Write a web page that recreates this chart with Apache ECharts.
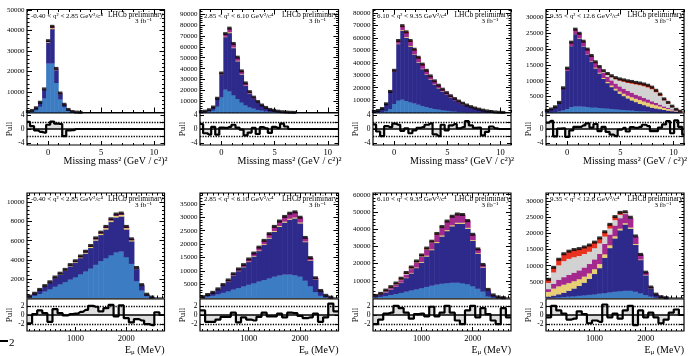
<!DOCTYPE html>
<html><head><meta charset="utf-8">
<script src="https://cdn.jsdelivr.net/npm/echarts@6/dist/echarts.min.js"></script>
<style>html,body{margin:0;padding:0;background:#fff}#c{width:689px;height:356px}</style>
</head><body><div id="c"></div>
<script>
// ---------- binning ----------
const mmBins = { start: -2.09, width: 0.38 };   // missing mass^2 bins (GeV^2/c^4)
const mmRange = [-2, 11];
const mmTicks = [0, 5, 10];
const eBins = { start: 50, width: 100 };         // E_mu bins (MeV)
const eRange = [50, 2750];
const eTicks = [1000, 2000];
const qLabels = ['-0.40 < q² < 2.85 GeV²/c⁴', '2.85 < q² < 6.10 GeV²/c⁴', '6.10 < q² < 9.35 GeV²/c⁴', '9.35 < q² < 12.6 GeV²/c⁴'];

// ---------- top row: missing mass^2 ----------
const m1Data    = [500, 1000, 2300, 5000, 11500, 35000, 42000, 21500, 9500, 4000, 1500, 500, 200, 80];
const m1Blue    = [300, 600, 1300, 3000, 7000, 24000, 24000, 14500, 6500, 2700, 1000, 330, 130, 50];
const m1Navy    = [200, 400, 1000, 2000, 4150, 10100, 16700, 6200, 2600, 1140, 460, 170, 70, 30];
const m1Yellow  = [0, 0, 0, 0, 150, 400, 500, 300, 150, 60];
const m1Magenta = [0, 0, 0, 0, 200, 500, 800, 500, 250, 100, 40];
const m1Grey    = [];
const m1Red     = [];
const m1Pull    = [2.0, 0.8, -0.4, -0.8, -1.0, 1.2, 2.1, 1.5, 1.4, -2.0, -0.4, -0.3, 0, 0, 0, 0, 0, 0, 0, 0, 0, 0, 0, 0, 0, 0, 0, 0, 0, 0, 0, 0, 0, 0, 0];

const m2Data    = [600, 1200, 2500, 5000, 13000, 36000, 72000, 77000, 63000, 50500, 38000, 27000, 19000, 14000, 10000, 6800, 4600, 2800, 2000, 1200, 700, 400, 200, 100];
const m2Blue    = [250, 600, 1200, 2200, 5500, 14000, 21000, 19500, 16000, 12500, 9500, 7000, 5000, 3600, 2600, 1800, 1200, 750, 500, 300, 170, 100, 50, 25];
const m2Navy    = [350, 600, 1300, 2800, 7200, 20700, 47900, 53200, 42800, 34400, 25500, 17600, 12200, 9100, 6450, 4350, 3000, 1800, 1350, 800, 530, 300, 150, 75];
const m2Yellow  = [0, 0, 0, 0, 0, 300, 600, 800, 700, 600, 500, 400, 300, 200, 150, 100];
const m2Magenta = [0, 0, 0, 0, 300, 1000, 2500, 3500, 3500, 3000, 2500, 2000, 1500, 1100, 800, 550, 400, 250, 150, 100];
const m2Grey    = [];
const m2Red     = [];
const m2Pull    = [1.4, -1.2, -1.6, 0.6, -1.6, 0.4, 0.3, 0.6, 1.2, 0.4, -0.2, -1.8, -1.0, 0.3, -1.4, 0.5, 0.2, -1.1, 0.6, 0.3, 1.5, 0.7, 0, 0, 0, 0, 0, 0, 0, 0, 0, 0, 0, 0, 0];

const m3Data    = [800, 1600, 3200, 7000, 17000, 34000, 58000, 70000, 65000, 58000, 51000, 44500, 39000, 34000, 29500, 25500, 22000, 18800, 16000, 13500, 11200, 9200, 7500, 6000, 4700, 3600, 2700, 1900, 1300, 800, 450, 200, 80];
const m3Blue    = [100, 250, 500, 1200, 3000, 7000, 10000, 10500, 9500, 8500, 7500, 6500, 5500, 4600, 3800, 3100, 2500, 2000, 1600, 1200, 900, 650, 450, 300, 200, 120, 70, 40];
const m3Navy    = [700, 1350, 2700, 5800, 13700, 25900, 45300, 55400, 50900, 44800, 39000, 33800, 29600, 25900, 22600, 19700, 17180, 14860, 12720, 10880, 9140, 7580, 6270, 5080, 4010, 3100, 2380, 1700, 1200, 740, 420, 200, 80];
const m3Yellow  = [0, 0, 0, 0, 0, 200, 400, 600, 600, 600, 550, 500, 450, 400, 350, 300, 260, 220, 190, 160, 130, 110, 90, 70, 55, 40, 30];
const m3Magenta = [0, 0, 0, 0, 300, 900, 2000, 3000, 3400, 3500, 3400, 3200, 3000, 2700, 2400, 2100, 1800, 1500, 1300, 1100, 900, 750, 600, 480, 380, 300, 220, 160, 100, 60, 30];
const m3Grey    = [];
const m3Red     = [0, 0, 0, 0, 0, 0, 300, 500, 600, 600, 550, 500, 450, 400, 350, 300, 260, 220, 190, 160, 130, 110, 90, 70, 55, 40];
const m3Pull    = [1.3, -0.7, -2.0, 0.8, 0.5, 1.5, 1.2, -0.5, 0.2, -1.2, -0.4, 0.3, 0.5, 1.2, 1.6, -1.5, -2.0, 1.2, -0.4, 1.0, 1.4, 0.2, 0.5, 2.2, 1.0, 0.3, 0.4, -1.8, -0.8, 0.7, 0.2, 0, 0, 0, 0];

const m4Data    = [600, 1100, 1800, 3200, 7800, 14000, 22200, 26300, 25000, 22500, 20000, 18000, 16000, 14500, 13200, 12300, 11600, 11000, 10600, 10300, 10000, 9800, 9500, 9300, 9000, 8600, 8000, 7000, 5800, 4300, 3200, 2000, 1000, 400, 100];
const m4Blue    = [50, 100, 200, 400, 800, 1200, 1800, 2000, 2000, 1900, 1800, 1700, 1600, 1500, 1400, 1300, 1200, 1100, 1000, 900, 800, 700, 600, 500, 400, 300, 200, 150, 100, 50, 30, 20];
const m4Navy    = [500, 950, 1500, 2600, 6600, 12000, 19200, 22800, 21400, 19000, 16500, 14500, 12400, 10900, 9300, 8000, 6900, 5900, 5000, 4300, 3700, 3200, 2700, 2300, 2000, 1700, 1400, 1200, 1000, 800, 650, 450, 250, 100, 30];
const m4Yellow  = [0, 0, 0, 0, 0, 100, 100, 100, 100, 100, 100, 150, 200, 250, 300, 400, 500, 600, 700, 800, 900, 1000, 1100, 1200, 1200, 1200, 1100, 1000, 850, 650, 500, 320, 160, 60, 15];
const m4Magenta = [50, 50, 100, 200, 400, 700, 1100, 1300, 1400, 1400, 1500, 1500, 1500, 1500, 1600, 1600, 1600, 1600, 1600, 1600, 1500, 1400, 1300, 1200, 1100, 1000, 900, 750, 600, 450, 350, 220, 110, 40, 10];
const m4Grey    = [0, 0, 0, 0, 0, 0, 0, 0, 0, 0, 0, 0, 100, 200, 400, 700, 1000, 1400, 1800, 2200, 2500, 2900, 3200, 3500, 3700, 3800, 3800, 3400, 2800, 2000, 1400, 830, 400, 160, 35];
const m4Red     = [0, 0, 0, 0, 0, 0, 0, 100, 100, 100, 100, 150, 200, 150, 200, 300, 400, 400, 500, 500, 600, 600, 600, 600, 600, 600, 600, 500, 450, 350, 270, 160, 80, 40, 10];
const m4Pull    = [1.8, 2.3, -2.1, 0.1, 0.2, -2.2, -0.4, 0.6, 0.6, 1.0, 1.6, 0.4, 1.4, -0.6, 0.6, -0.8, -1.6, -2.0, -0.2, 0.3, -0.7, 0.5, 0.3, 0.6, 1.2, 0.8, -0.6, -0.6, 0.4, 1.3, 2.2, -1.2, 2.4, 0.6, -1.6];

// ---------- bottom row: E_mu ----------
const e1Data    = [200, 500, 900, 1300, 1700, 2200, 2600, 3000, 3500, 3900, 4400, 4900, 5500, 6300, 6900, 7500, 8300, 8800, 8900, 7500, 6200, 3200, 1400, 400, 100];
const e1Blue    = [80, 250, 450, 700, 950, 1200, 1450, 1700, 1950, 2200, 2500, 2800, 3100, 3500, 3900, 4200, 4500, 4800, 4900, 4300, 3600, 1800, 800, 220, 50];
const e1Navy    = [110, 230, 410, 540, 670, 900, 1030, 1160, 1390, 1520, 1700, 1880, 2160, 2540, 2720, 3000, 3480, 3660, 3660, 2900, 2360, 1260, 540, 160, 50];
const e1Yellow  = [5, 10, 20, 30, 40, 50, 60, 70, 80, 90, 100, 110, 120, 130, 140, 150, 160, 170, 170, 150, 120, 70, 30, 10];
const e1Magenta = [5, 10, 20, 30, 40, 50, 60, 70, 80, 90, 100, 110, 120, 130, 140, 150, 160, 170, 170, 150, 120, 70, 30, 10];
const e1Grey    = [];
const e1Red     = [];
const e1Pull    = [-1.8, 0.2, 1.0, 0.4, -1.5, 1.3, 0.4, -0.1, 0.2, 0.3, 0.7, 1.1, 2.0, 1.8, 0.8, 1.5, 2.2, -0.3, 2.1, -0.7, -1.6, -0.9, -1.2, -2.0, -2.2, 0.6, 0];

const e2Data    = [500, 1300, 2100, 3400, 5000, 6700, 9000, 10800, 12400, 14500, 16700, 18900, 21400, 23900, 26600, 28600, 30300, 31500, 32000, 30000, 22500, 15000, 7500, 2800, 1000, 300];
const e2Blue    = [200, 550, 900, 1400, 2000, 2600, 3200, 3800, 4400, 5000, 5600, 6200, 6800, 7400, 8000, 8500, 8800, 8800, 8600, 8000, 6500, 4500, 2300, 900, 300, 80];
const e2Navy    = [275, 690, 1080, 1780, 2660, 3640, 5200, 6250, 7100, 8450, 9900, 11320, 13040, 14760, 16680, 18010, 19290, 20370, 21010, 19790, 14330, 9420, 4660, 1695, 628, 196];
const e2Yellow  = [5, 10, 20, 40, 60, 80, 100, 130, 150, 170, 200, 230, 260, 290, 320, 340, 360, 380, 390, 360, 270, 180, 90, 35, 12, 4];
const e2Magenta = [20, 50, 100, 180, 280, 380, 500, 620, 750, 880, 1000, 1150, 1300, 1450, 1600, 1750, 1850, 1950, 2000, 1850, 1400, 900, 450, 170, 60, 20];
const e2Grey    = [];
const e2Red     = [];
const e2Pull    = [1.0, -1.5, -1.5, -1.0, -0.4, -0.4, 0.5, -1.6, -0.5, -1.0, -1.2, -0.4, 0.5, -0.3, -0.3, 0.3, -0.5, 0.5, 0.4, -0.2, -0.7, -0.5, 0.3, -1.5, -0.5, 2.5, 0.8];

const e3Data    = [1500, 2700, 4600, 6600, 8700, 11500, 14800, 18000, 21500, 25000, 29000, 33000, 37500, 41500, 44700, 47500, 48800, 48500, 45000, 37000, 28500, 19500, 5000, 1800, 600, 200];
const e3Blue    = [400, 800, 1300, 1900, 2500, 3100, 3800, 4500, 5200, 5900, 6600, 7300, 7900, 8400, 8800, 9000, 9000, 8700, 8200, 7000, 5500, 3800, 1000, 350, 120, 40];
const e3Navy    = [720, 1190, 2050, 3010, 4070, 5770, 7870, 9910, 12300, 14720, 17650, 20600, 24160, 27450, 30150, 32750, 34240, 34540, 32170, 26330, 20340, 13960, 3540, 1300, 440, 150];
const e3Yellow  = [30, 60, 100, 140, 180, 230, 280, 340, 400, 450, 500, 550, 600, 620, 640, 650, 650, 630, 580, 470, 360, 240, 60, 20];
const e3Magenta = [150, 300, 550, 800, 1050, 1400, 1800, 2200, 2600, 3000, 3400, 3800, 4200, 4500, 4700, 4800, 4700, 4500, 4000, 3200, 2300, 1500, 400, 130, 40, 10];
const e3Grey    = [100, 150, 250, 300, 350, 400, 400, 400, 380, 350, 320, 280, 240, 200, 150, 100, 70, 40];
const e3Red     = [100, 200, 350, 450, 550, 600, 650, 650, 620, 580, 530, 470, 400, 330, 260, 200, 140, 90, 50];
const e3Pull    = [-2.0, -1.0, 0.3, 0.5, 2.0, 1.5, 0.5, -0.8, 0.2, 0.3, -0.3, 1.8, -0.3, 0.5, 2.0, 0.5, -1.2, -2.0, 1.0, 2.0, -0.5, 1.5, 0.2, -1.2, -2.0, 1.5, -0.5];

const e4Data    = [5800, 9500, 12000, 13700, 14500, 15000, 15300, 15800, 16400, 17300, 18600, 20500, 22800, 25200, 26500, 26700, 25000, 19200, 13500, 8000, 3400, 1200, 400, 100];
const e4Blue    = [100, 200, 300, 400, 500, 600, 750, 900, 1050, 1200, 1400, 1600, 1800, 2000, 2200, 2300, 2300, 2000, 1500, 1000, 500, 200, 70, 20];
const e4Navy    = [400, 600, 900, 1300, 1800, 2400, 3050, 3900, 4950, 6300, 7900, 10900, 13700, 16500, 18800, 20500, 19200, 14500, 10300, 6080, 2540, 880, 300, 70];
const e4Yellow  = [1500, 2200, 2500, 2500, 2400, 2300, 2100, 1900, 1700, 1500, 1300, 1100, 900, 700, 550, 450, 400, 300, 200, 120, 60, 20];
const e4Magenta = [800, 1500, 2000, 2300, 2500, 2600, 2700, 2800, 2900, 3000, 3100, 3200, 3300, 3300, 3200, 2800, 2900, 2300, 1500, 800, 300, 100, 30];
const e4Grey    = [2000, 3500, 4500, 5000, 5000, 4800, 4500, 4200, 3800, 3500, 3300, 2300, 1900, 1700, 1050, 400, 200, 100];
const e4Red     = [1000, 1500, 1800, 2200, 2300, 2300, 2200, 2100, 2000, 1800, 1600, 1400, 1200, 1000, 700, 200];
const e4Pull    = [-0.5, 2.0, 1.0, 0.3, -1.0, -0.8, 0.8, 0.2, -1.8, -1.2, -1.5, 2.3, -0.5, 0.3, -0.8, 1.0, 2.0, -2.2, 1.0, -0.5, 0.5, -0.5, -1.8, -1.0, 0.5, 1.2, 0];

// ---------- panel configuration ----------
const panels = [
  { row: 0, col: 0, comps: [m1Blue, m1Navy, m1Yellow, m1Magenta, m1Grey, m1Red], data: m1Data, pull: m1Pull, ymax: 50200, yint: 10000, q: qLabels[0] },
  { row: 0, col: 1, comps: [m2Blue, m2Navy, m2Yellow, m2Magenta, m2Grey, m2Red], data: m2Data, pull: m2Pull, ymax: 94000, yint: 10000, q: qLabels[1] },
  { row: 0, col: 2, comps: [m3Blue, m3Navy, m3Yellow, m3Magenta, m3Grey, m3Red], data: m3Data, pull: m3Pull, ymax: 83000, yint: 10000, q: qLabels[2] },
  { row: 0, col: 3, comps: [m4Blue, m4Navy, m4Yellow, m4Magenta, m4Grey, m4Red], data: m4Data, pull: m4Pull, ymax: 32500, yint: 5000, q: qLabels[3] },
  { row: 1, col: 0, comps: [e1Blue, e1Navy, e1Yellow, e1Magenta, e1Grey, e1Red], data: e1Data, pull: e1Pull, ymax: 11000, yint: 2000, q: qLabels[0] },
  { row: 1, col: 1, comps: [e2Blue, e2Navy, e2Yellow, e2Magenta, e2Grey, e2Red], data: e2Data, pull: e2Pull, ymax: 39000, yint: 5000, q: qLabels[1] },
  { row: 1, col: 2, comps: [e3Blue, e3Navy, e3Yellow, e3Magenta, e3Grey, e3Red], data: e3Data, pull: e3Pull, ymax: 61000, yint: 10000, q: qLabels[2] },
  { row: 1, col: 3, comps: [e4Blue, e4Navy, e4Yellow, e4Magenta, e4Grey, e4Red], data: e4Data, pull: e4Pull, ymax: 32500, yint: 5000, q: qLabels[3] }
];

// ---------- layout / style ----------
const SERIF = '"Liberation Serif", "DejaVu Serif", serif';
const COLS = [[27, 164.5], [200, 338.5], [373, 511], [546, 684]];
const ROWS = [
  { mainTop: 9.5, mainH: 103, pullTop: 113, pullH: 32, pullMin: -4.5, pullMax: 4.5, pullTicks: [-4, -2, 0, 2, 4], titleY: 161 },
  { mainTop: 193, mainH: 105, pullTop: 299, pullH: 32, pullMin: -3.5, pullMax: 3.5, pullTicks: [-2, 0, 2], titleY: 350 }
];
const COLORS = ['#3c7cc3', '#2d2a8c', '#e6cf74', '#a3298f', '#d2d2d2', '#e8321f'];

function range(a, b, s) { const r = []; for (let v = a; v <= b + 1e-9; v += s) r.push(+v.toFixed(6)); return r; }

const grid = [], xAxis = [], yAxis = [], series = [], graphic = [];

function tickAxis(base, values, len, labels, labelOpt) {
  return Object.assign({}, base, {
    axisLine: { show: false, onZero: false },
    splitLine: { show: false },
    axisTick: { show: len > 0, inside: true, length: len, customValues: values, lineStyle: { color: '#000', width: 1 } },
    axisLabel: labels ? Object.assign({ customValues: labels, color: '#000', fontFamily: SERIF, formatter: v => String(v), showMinLabel: true, showMaxLabel: true }, labelOpt) : { show: false }
  });
}
function addX(a) { xAxis.push(a); return xAxis.length - 1; }
function addY(a) { yAxis.push(a); return yAxis.length - 1; }

panels.forEach((p, pi) => {
  const [L, R] = COLS[p.col];
  const row = ROWS[p.row];
  const bins = p.row === 0 ? mmBins : eBins;
  const xr = p.row === 0 ? mmRange : eRange;
  const xMajor = p.row === 0 ? mmTicks : eTicks;
  const xMinor = p.row === 0 ? range(-2, 11, 1) : range(100, 2700, 100);
  const gMain = grid.length;
  grid.push({ left: L, top: row.mainTop, width: R - L, height: row.mainH, show: true, borderColor: '#000', borderWidth: 1.2, backgroundColor: 'transparent' });
  const gPull = grid.length;
  grid.push({ left: L, top: row.pullTop, width: R - L, height: row.pullH, show: true, borderColor: '#000', borderWidth: 1.2, backgroundColor: 'transparent' });

  // main pad axes (ticks on all four sides)
  const xm = addX(tickAxis({ type: 'value', gridIndex: gMain, min: xr[0], max: xr[1], position: 'bottom' }, xMajor, 5, null));
  addX(tickAxis({ type: 'value', gridIndex: gMain, min: xr[0], max: xr[1], position: 'bottom' }, xMinor, 2.5, null));
  addX(tickAxis({ type: 'value', gridIndex: gMain, min: xr[0], max: xr[1], position: 'top' }, xMajor, 5, null));
  addX(tickAxis({ type: 'value', gridIndex: gMain, min: xr[0], max: xr[1], position: 'top' }, xMinor, 2.5, null));
  const yMajor = range(p.yint, p.ymax, p.yint);
  const yMinor = range(p.yint / 5, p.ymax, p.yint / 5);
  const ym = addY(tickAxis({ type: 'value', gridIndex: gMain, min: 0, max: p.ymax, position: 'left' }, yMajor, 5, yMajor, { fontSize: 7, margin: 2.5 }));
  addY(tickAxis({ type: 'value', gridIndex: gMain, min: 0, max: p.ymax, position: 'left' }, yMinor, 2.5, null));
  addY(tickAxis({ type: 'value', gridIndex: gMain, min: 0, max: p.ymax, position: 'right' }, yMajor, 5, null));
  addY(tickAxis({ type: 'value', gridIndex: gMain, min: 0, max: p.ymax, position: 'right' }, yMinor, 2.5, null));

  // pull pad axes
  const xp = addX(tickAxis({ type: 'value', gridIndex: gPull, min: xr[0], max: xr[1], position: 'bottom' }, xMajor, 4, xMajor, { fontSize: 8.5, margin: 3 }));
  addX(tickAxis({ type: 'value', gridIndex: gPull, min: xr[0], max: xr[1], position: 'bottom' }, xMinor, 2, null));
  const ypAxis = tickAxis({ type: 'value', gridIndex: gPull, min: row.pullMin, max: row.pullMax, position: 'left' }, row.pullTicks, 4, row.pullTicks, { fontSize: 7.5, margin: 2.5 });
  ypAxis.name = 'Pull'; ypAxis.nameLocation = 'middle'; ypAxis.nameRotate = 90; ypAxis.nameGap = 11;
  ypAxis.nameTextStyle = { fontFamily: SERIF, fontSize: 9, color: '#000' };
  const yp = addY(ypAxis);
  addY(tickAxis({ type: 'value', gridIndex: gPull, min: row.pullMin, max: row.pullMax, position: 'right' }, row.pullTicks, 4, null));

  // stacked histogram rows: [xlow, xhigh, cumulative tops...]
  const n = Math.max(...p.comps.map(c => c.length));
  const rows = [];
  for (let i = 0; i < n; i++) {
    let acc = 0, any = false;
    const r = [bins.start + bins.width * i, bins.start + bins.width * (i + 1)];
    p.comps.forEach(c => { const v = c[i] || 0; if (v > 0) any = true; acc += v; r.push(acc); });
    if (any) rows.push(r);
  }
  const nc = p.comps.length;
  series.push({
    type: 'custom', xAxisIndex: xm, yAxisIndex: ym, clip: true, silent: true, animation: false,
    encode: { x: [0, 1], y: [2, 3, 4, 5, 6, 7] },
    data: rows,
    renderItem: (params, api) => {
      const x0 = api.value(0), x1 = api.value(1);
      const children = [];
      let prev = 0;
      for (let k = 0; k < nc; k++) {
        const top = api.value(2 + k);
        if (top > prev) {
          const a = api.coord([x0, prev]), b = api.coord([x1, top]);
          children.push({ type: 'rect', shape: { x: a[0], y: b[1], width: b[0] - a[0] + 0.5, height: a[1] - b[1] + 0.3 }, style: { fill: COLORS[k] } });
        }
        prev = top;
      }
      return { type: 'group', children };
    }
  });
  // data points
  series.push({
    type: 'scatter', xAxisIndex: xm, yAxisIndex: ym, silent: true, animation: false,
    symbol: 'rect', symbolSize: p.row === 0 ? [4.4, 3] : [5, 3],
    itemStyle: { color: '#000' },
    data: p.data.map((v, i) => [bins.start + bins.width * (i + 0.5), v]).filter(d => d[1] > 0)
  });
  // pull
  const pts = [[xr[0], p.pull[0]]];
  p.pull.forEach((v, i) => pts.push([bins.start + bins.width * (i + 0.5), v]));
  pts.push([xr[1], p.pull[p.pull.length - 1]]);
  series.push({
    type: 'line', xAxisIndex: xp, yAxisIndex: yp, step: 'middle', showSymbol: false, silent: true, animation: false,
    lineStyle: { color: '#000', width: 2.2 },
    areaStyle: { color: 'rgba(150,150,150,0.45)' },
    data: pts,
    markLine: {
      silent: true, symbol: ['none', 'none'], label: { show: false }, animation: false,
      data: [
        { yAxis: 2, lineStyle: { type: 'dotted', color: '#000', width: 1.3 } },
        { yAxis: -2, lineStyle: { type: 'dotted', color: '#000', width: 1.3 } },
        { yAxis: 0, lineStyle: { type: 'solid', color: '#000', width: 1.6 } }
      ]
    }
  });

  // texts inside the frame
  const T = row.mainTop;
  graphic.push({ type: 'text', x: L + 4, y: T + 3, style: { text: p.q, font: '7px ' + SERIF, fill: '#000', align: 'left', verticalAlign: 'top' } });
  graphic.push({ type: 'text', x: R - 1, y: T + 2, style: { text: 'LHCb preliminary', font: '7.5px ' + SERIF, fill: '#000', align: 'right', verticalAlign: 'top' } });
  graphic.push({ type: 'text', x: R - 21, y: T + 8.5, style: { text: '3 fb⁻¹', font: '7px ' + SERIF, fill: '#000', align: 'center', verticalAlign: 'top' } });
  // axis titles
  if (p.row === 0) {
    graphic.push({ type: 'text', x: R + 3, y: row.titleY, style: { text: 'Missing mass² (GeV / c²)²', font: '10px ' + SERIF, fill: '#000', align: 'right', verticalAlign: 'middle' } });
  } else {
    graphic.push({ type: 'text', x: R, y: row.titleY, style: { text: '{a|E}{b|μ}{a| (MeV)}', align: 'right', verticalAlign: 'middle',
      rich: { a: { fontSize: 10, fontFamily: SERIF, fill: '#000' }, b: { fontSize: 7, fontFamily: SERIF, fill: '#000', padding: [5, 0, 0, 0] } } } });
  }
});

// clipped fragment at the lower-left edge of the figure
graphic.push({ type: 'line', shape: { x1: 0, y1: 341, x2: 8, y2: 341 }, style: { stroke: '#000', lineWidth: 2 } });
graphic.push({ type: 'text', x: 9, y: 338, style: { text: '2', font: '11px ' + SERIF, fill: '#000', align: 'left', verticalAlign: 'top' } });

const chart = echarts.init(document.getElementById('c'), null, { renderer: 'canvas' });
chart.setOption({ backgroundColor: '#fff', animation: false, grid, xAxis, yAxis, series, graphic });
</script>
</body></html>
